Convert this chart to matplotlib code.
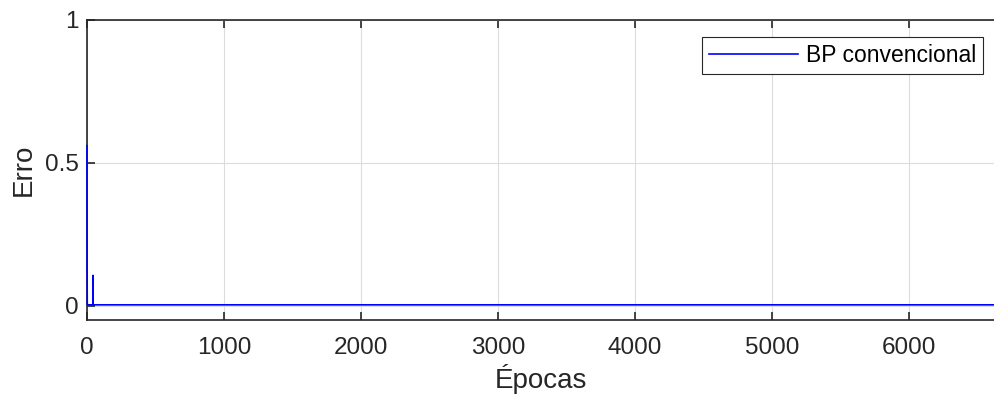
import matplotlib
matplotlib.use('Agg')
import matplotlib.pyplot as plt

# --- DADOS ---
epocas = [0, 1, 2, 3, 42, 43, 44, 45, 46, 6700]
erro = [0.56, 0.15, 0.01, 0.003, 0.003, 0.003, 0.106, 0.003, 0.003, 0.003]
x_ticks = [0, 1000, 2000, 3000, 4000, 5000, 6000]
y_ticks = [0, 0.5, 1]
y_ticklabels = ['0', '0.5', '1']

plt.rcParams['font.family'] = ['Liberation Sans', 'DejaVu Sans']

fig = plt.figure(figsize=(9.95, 3.96), dpi=100)
ax = fig.add_axes([0.0874, 0.192, 0.9126, 0.7575])

ax.plot(epocas, erro, color='#0000ff', linewidth=1.2, label='BP convencional',
        zorder=3, clip_on=False)

ax.set_xlim(0, 6630)
ax.set_ylim(-0.05, 1)
ax.set_xticks(x_ticks)
ax.set_yticks(y_ticks)
ax.set_yticklabels(y_ticklabels)
ax.grid(True, color='#dcdcdc', linewidth=0.8)
ax.set_axisbelow(True)

ax.tick_params(direction='in', length=6, width=1.2, labelsize=17.5, colors='#262626',
               top=True, right=False, pad=12)
ax.tick_params(axis='y', pad=6)
for s in ['left', 'bottom', 'top']:
    ax.spines[s].set_color('#262626')
    ax.spines[s].set_linewidth(1.2)
ax.spines['right'].set_visible(False)

ax.set_xlabel('Épocas', fontsize=20, color='#262626', labelpad=4)
ax.set_ylabel('Erro', fontsize=20, color='#262626', labelpad=6)

leg = ax.legend(loc='upper right', bbox_to_anchor=(0.987, 0.943), fontsize=16.5,
                fancybox=False, framealpha=1, edgecolor='#262626',
                handlelength=3.9, borderpad=0.3, handletextpad=0.35,
                borderaxespad=0)
leg.get_frame().set_linewidth(0.8)

fig.savefig('out.png', dpi=100)
